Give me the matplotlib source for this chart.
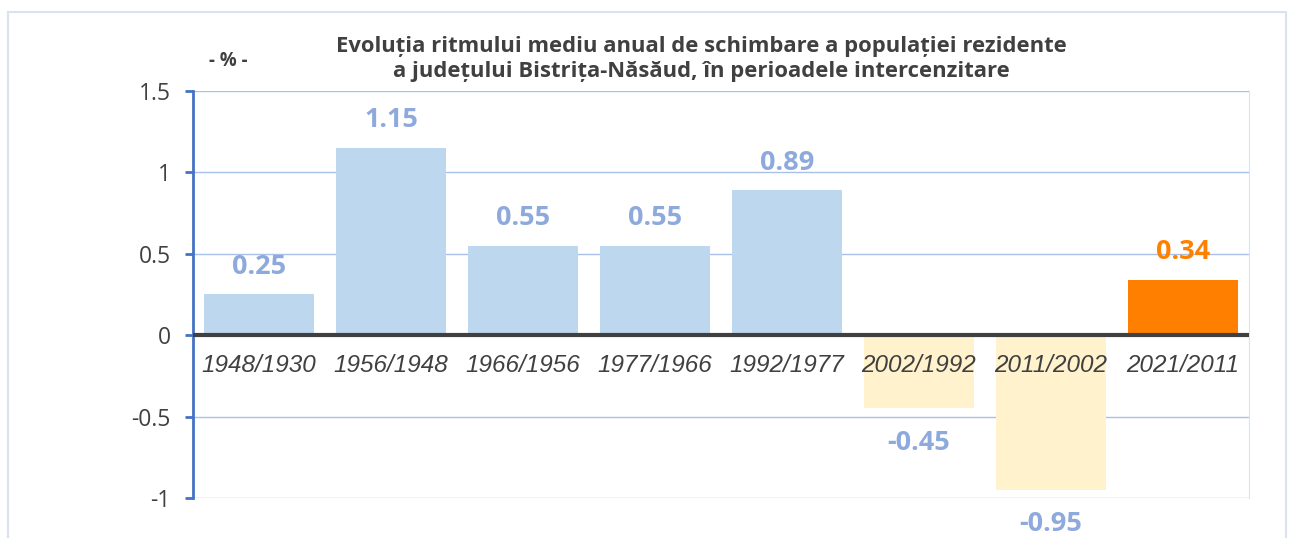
import matplotlib.pyplot as plt
from matplotlib.patches import Rectangle

# Data
periods = ['1948/1930', '1956/1948', '1966/1956', '1977/1966', '1992/1977',
           '2002/1992', '2011/2002', '2021/2011']
values = [0.25, 1.15, 0.55, 0.55, 0.89, -0.45, -0.95, 0.34]
bar_colors = ['#BDD7EE'] * 5 + ['#FFF2CC', '#FFF2CC', '#FF8000']
label_colors = ['#8EA9DB'] * 7 + ['#FF8000']

W, H = 1297, 538
fig = plt.figure(figsize=(W / 100, H / 100), dpi=100)
fig.patches.append(Rectangle((8 / W, -0.1), (1286 - 8) / W, 1.1 - 12 / H,
                             transform=fig.transFigure, fill=False,
                             edgecolor='#D9E1F2', linewidth=1.5))

ax = fig.add_axes([193 / W, 1 - 498 / H, (1249 - 193) / W, (498 - 91) / H])
x = range(len(periods))
ax.bar(x, values, width=0.83, color=bar_colors, zorder=2)

ax.set_xlim(-0.5, 7.5)
ax.set_ylim(-1, 1.5)
ax.set_yticks([-1, -0.5, 0, 0.5, 1, 1.5])
ax.set_yticklabels(['-1', '-0.5', '0', '0.5', '1', '1.5'])
ax.yaxis.grid(True, color='#A9C0E8', linewidth=1, zorder=0)
ax.axhline(0, color='#404040', linewidth=3, zorder=3)

for s in ['top', 'bottom']:
    ax.spines[s].set_visible(False)
ax.spines['right'].set_color('#D9E1F2')
ax.spines['left'].set_color('#4472C4')
ax.spines['left'].set_linewidth(2)
ax.tick_params(axis='y', direction='out', length=6, width=2, color='#4472C4',
               labelsize=16.5, labelcolor='#404040', pad=10)
for t in ax.get_yticklabels():
    t.set_family('Open Sans')
ax.set_xticks([])

# category labels just below the zero line
for i, p in enumerate(periods):
    ax.text(i, -0.185, p, ha='center', va='center', fontsize=17.5,
            style='italic', family='Liberation Sans', color='#404040', zorder=4)

# value labels
for i, v in enumerate(values):
    off = 0.17 if v >= 0 else -0.21
    ax.text(i, v + off, f'{v:.2f}', ha='center', va='center', fontsize=19.5,
            fontweight='bold', family='Open Sans', color=label_colors[i],
            clip_on=False, zorder=4)

fig.text(701 / W, 1 - 59 / H,
         'Evoluția ritmului mediu anual de schimbare a populației rezidente\n'
         'a județului Bistrița-Năsăud, în perioadele intercenzitare',
         ha='center', va='center', fontsize=15.8, fontweight='bold',
         family='Open Sans', color='#404040', linespacing=1.25)
fig.text(228 / W, 1 - 61 / H, '- % -', ha='center', va='center', fontsize=13.5,
         fontweight='bold', family='Open Sans', color='#404040')

fig.savefig('out.png', dpi=100)
